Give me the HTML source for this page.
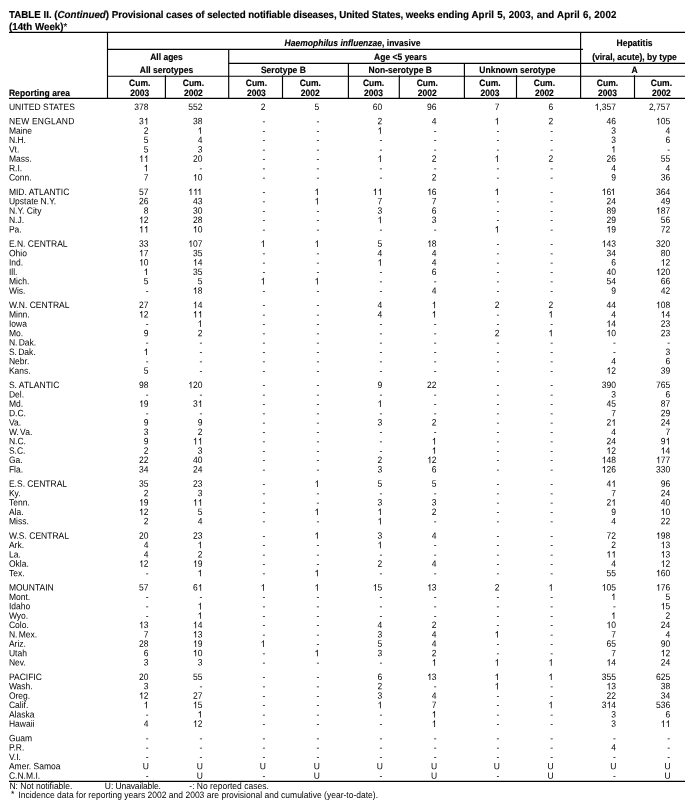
<!DOCTYPE html>
<html><head><meta charset="utf-8"><title>TABLE II</title>
<style>
html,body{margin:0;padding:0;background:#fff;}
body{width:693px;height:809px;position:relative;overflow:hidden;font-family:"Liberation Sans",sans-serif;color:#000;}
#pg{position:absolute;left:0;top:0;width:693px;height:809px;will-change:transform;text-rendering:geometricPrecision;}
.r{position:absolute;left:0;width:693px;height:10px;line-height:10px;font-size:8.52px;white-space:nowrap;}
.r span{position:absolute;top:0;transform:translate(var(--x),var(--f)) matrix(1,0.0005,0,1.08,0,0);transform-origin:0 8px;}
.r .l{left:8px;--x:0.90px;}
.h{position:absolute;-webkit-text-stroke:0.15px #000;font-weight:bold;font-size:8.52px;line-height:10px;height:10px;white-space:nowrap;transform:translateX(-50%) scaleY(1.08);transform-origin:0 8px;}
.hl{position:absolute;background:#000;height:1px;}
.vl{position:absolute;background:#000;width:1px;}
.t{position:absolute;left:9px;-webkit-text-stroke:0.15px #000;font-weight:bold;font-size:9.75px;line-height:11px;white-space:nowrap;transform:scaleY(1.04);transform-origin:0 8px;}
.o{display:inline-block;width:0.5562em;height:0.7227em;vertical-align:baseline;overflow:visible;fill:#000;stroke:#000;stroke-width:12;}
.f{position:absolute;font-size:8.52px;line-height:10px;white-space:nowrap;transform:scaleY(1.08);transform-origin:0 8px;}
</style></head><body>
<div id="pg">
<div class="t" style="top:10.3px">TABLE II. (<i>Continued</i>) <span style="letter-spacing:-0.077px">Provisional cases of selected notifiable diseases, United States, weeks ending </span><span style="letter-spacing:0.1px;word-spacing:0.3px">April 5, 2003, and April 6, 2002</span></div>
<div class="t" style="top:21.9px">(14th Week)<span style="font-weight:normal">*</span></div>
<svg width="693" height="809" viewBox="0 0 693 809" style="position:absolute;left:0;top:0" stroke="#000" stroke-width="1.15" fill="none"><line x1="9.0" y1="32.4" x2="685.0" y2="32.4"/><line x1="107.5" y1="49.4" x2="583" y2="49.4"/><line x1="228.7" y1="63.4" x2="685.0" y2="63.4"/><line x1="107.5" y1="76.2" x2="685.0" y2="76.2"/><line x1="9.0" y1="98.3" x2="685.0" y2="98.3"/><line x1="9.0" y1="781.4" x2="685.0" y2="781.4"/><line x1="107.5" y1="32.4" x2="107.5" y2="98.3"/><line x1="228.7" y1="49.4" x2="228.7" y2="98.3"/><line x1="580.6" y1="32.4" x2="580.6" y2="98.3"/><line x1="348.4" y1="63.4" x2="348.4" y2="98.3"/><line x1="464.4" y1="63.4" x2="464.4" y2="98.3"/><line x1="165.4" y1="75.2" x2="165.4" y2="98.3"/><line x1="282.5" y1="75.2" x2="282.5" y2="98.3"/><line x1="399.3" y1="75.2" x2="399.3" y2="98.3"/><line x1="516.5" y1="75.2" x2="516.5" y2="98.3"/><line x1="634.5" y1="75.2" x2="634.5" y2="98.3"/></svg>
<div class="h" style="left:352.5px;top:37.62px"><i>Haemophilus influenzae</i>, invasive</div>
<div class="h" style="left:166.5px;top:51.72px">All ages</div>
<div class="h" style="left:166.5px;top:65.02px">All serotypes</div>
<div class="h" style="left:400.5px;top:51.62px">Age &lt;5 years</div>
<div class="h" style="left:283.4px;top:65.02px">Serotype B</div>
<div class="h" style="left:400.3px;top:65.02px">Non-serotype B</div>
<div class="h" style="left:517.4px;top:65.02px">Unknown serotype</div>
<div class="h" style="left:634.5px;top:37.82px">Hepatitis</div>
<div class="h" style="left:634.5px;top:51.62px">(viral, acute), by type</div>
<div class="h" style="left:634.5px;top:65.12px">A</div>
<div class="h" style="left:139.7px;top:77.72px">Cum.</div>
<div class="h" style="left:139.7px;top:88.12px">2003</div>
<div class="h" style="left:193.4px;top:77.72px">Cum.</div>
<div class="h" style="left:193.4px;top:88.12px">2002</div>
<div class="h" style="left:256.4px;top:77.72px">Cum.</div>
<div class="h" style="left:256.4px;top:88.12px">2003</div>
<div class="h" style="left:310.3px;top:77.72px">Cum.</div>
<div class="h" style="left:310.3px;top:88.12px">2002</div>
<div class="h" style="left:373.6px;top:77.72px">Cum.</div>
<div class="h" style="left:373.6px;top:88.12px">2003</div>
<div class="h" style="left:427.3px;top:77.72px">Cum.</div>
<div class="h" style="left:427.3px;top:88.12px">2002</div>
<div class="h" style="left:490.0px;top:77.72px">Cum.</div>
<div class="h" style="left:490.0px;top:88.12px">2003</div>
<div class="h" style="left:544.4px;top:77.72px">Cum.</div>
<div class="h" style="left:544.4px;top:88.12px">2002</div>
<div class="h" style="left:607.5px;top:77.72px">Cum.</div>
<div class="h" style="left:607.5px;top:88.12px">2003</div>
<div class="h" style="left:661.4px;top:77.72px">Cum.</div>
<div class="h" style="left:661.4px;top:88.12px">2002</div>
<div class="h" style="left:8.9px;top:88.12px;transform:scaleY(1.08);letter-spacing:0.08px">Reporting area</div>
<div class="r" style="top:101px;--f:0.92px"><span class="l">UNITED STATES</span><span style="left:134px;--x:0.28px">378</span><span style="left:188px;--x:0.18px">552</span><span style="left:260px;--x:0.66px">2</span><span style="left:314px;--x:0.56px">5</span><span style="left:372px;--x:0.82px">60</span><span style="left:427px;--x:0.12px">96</span><span style="left:494px;--x:0.66px">7</span><span style="left:548px;--x:0.46px">6</span><span style="left:594px;--x:0.58px"><svg class="o" viewBox="0 0 1139 1480"><path transform="translate(0,1480) scale(1,-1)" d="M763 0H583V1147Q518 1085 412.5 1023T223 930V1104Q374 1175 487 1276T647 1472H763Z"/></svg>,357</span><span style="left:648px;--x:0.88px">2,757</span></div>
<div class="r" style="top:116px;--f:0.30px"><span class="l" style="letter-spacing:0.2px">NEW ENGLAND</span><span style="left:139px;--x:0.02px">3<svg class="o" viewBox="0 0 1139 1480"><path transform="translate(0,1480) scale(1,-1)" d="M763 0H583V1147Q518 1085 412.5 1023T223 930V1104Q374 1175 487 1276T647 1472H763Z"/></svg></span><span style="left:192px;--x:0.92px">38</span><span style="left:262px;--x:0.56px">-</span><span style="left:316px;--x:0.46px">-</span><span style="left:377px;--x:0.56px">2</span><span style="left:431px;--x:0.86px">4</span><span style="left:494px;--x:0.66px"><svg class="o" viewBox="0 0 1139 1480"><path transform="translate(0,1480) scale(1,-1)" d="M763 0H583V1147Q518 1085 412.5 1023T223 930V1104Q374 1175 487 1276T647 1472H763Z"/></svg></span><span style="left:548px;--x:0.46px">2</span><span style="left:606px;--x:0.42px">46</span><span style="left:655px;--x:0.98px"><svg class="o" viewBox="0 0 1139 1480"><path transform="translate(0,1480) scale(1,-1)" d="M763 0H583V1147Q518 1085 412.5 1023T223 930V1104Q374 1175 487 1276T647 1472H763Z"/></svg>05</span></div>
<div class="r" style="top:125px;--f:0.67px"><span class="l">Maine</span><span style="left:143px;--x:0.76px">2</span><span style="left:197px;--x:0.66px"><svg class="o" viewBox="0 0 1139 1480"><path transform="translate(0,1480) scale(1,-1)" d="M763 0H583V1147Q518 1085 412.5 1023T223 930V1104Q374 1175 487 1276T647 1472H763Z"/></svg></span><span style="left:262px;--x:0.56px">-</span><span style="left:316px;--x:0.46px">-</span><span style="left:377px;--x:0.56px"><svg class="o" viewBox="0 0 1139 1480"><path transform="translate(0,1480) scale(1,-1)" d="M763 0H583V1147Q518 1085 412.5 1023T223 930V1104Q374 1175 487 1276T647 1472H763Z"/></svg></span><span style="left:433px;--x:0.76px">-</span><span style="left:496px;--x:0.56px">-</span><span style="left:550px;--x:0.36px">-</span><span style="left:611px;--x:0.16px">3</span><span style="left:665px;--x:0.46px">4</span></div>
<div class="r" style="top:135px;--f:0.05px"><span class="l">N.H.</span><span style="left:143px;--x:0.76px">5</span><span style="left:197px;--x:0.66px">4</span><span style="left:262px;--x:0.56px">-</span><span style="left:316px;--x:0.46px">-</span><span style="left:379px;--x:0.46px">-</span><span style="left:433px;--x:0.76px">-</span><span style="left:496px;--x:0.56px">-</span><span style="left:550px;--x:0.36px">-</span><span style="left:611px;--x:0.16px">3</span><span style="left:665px;--x:0.46px">6</span></div>
<div class="r" style="top:144px;--f:0.42px"><span class="l">Vt.</span><span style="left:143px;--x:0.76px">5</span><span style="left:197px;--x:0.66px">3</span><span style="left:262px;--x:0.56px">-</span><span style="left:316px;--x:0.46px">-</span><span style="left:379px;--x:0.46px">-</span><span style="left:433px;--x:0.76px">-</span><span style="left:496px;--x:0.56px">-</span><span style="left:550px;--x:0.36px">-</span><span style="left:611px;--x:0.16px"><svg class="o" viewBox="0 0 1139 1480"><path transform="translate(0,1480) scale(1,-1)" d="M763 0H583V1147Q518 1085 412.5 1023T223 930V1104Q374 1175 487 1276T647 1472H763Z"/></svg></span><span style="left:667px;--x:0.36px">-</span></div>
<div class="r" style="top:153px;--f:0.80px"><span class="l">Mass.</span><span style="left:139px;--x:0.02px"><svg class="o" viewBox="0 0 1139 1480"><path transform="translate(0,1480) scale(1,-1)" d="M763 0H583V1147Q518 1085 412.5 1023T223 930V1104Q374 1175 487 1276T647 1472H763Z"/></svg><svg class="o" viewBox="0 0 1139 1480"><path transform="translate(0,1480) scale(1,-1)" d="M763 0H583V1147Q518 1085 412.5 1023T223 930V1104Q374 1175 487 1276T647 1472H763Z"/></svg></span><span style="left:192px;--x:0.92px">20</span><span style="left:262px;--x:0.56px">-</span><span style="left:316px;--x:0.46px">-</span><span style="left:377px;--x:0.56px"><svg class="o" viewBox="0 0 1139 1480"><path transform="translate(0,1480) scale(1,-1)" d="M763 0H583V1147Q518 1085 412.5 1023T223 930V1104Q374 1175 487 1276T647 1472H763Z"/></svg></span><span style="left:431px;--x:0.86px">2</span><span style="left:494px;--x:0.66px"><svg class="o" viewBox="0 0 1139 1480"><path transform="translate(0,1480) scale(1,-1)" d="M763 0H583V1147Q518 1085 412.5 1023T223 930V1104Q374 1175 487 1276T647 1472H763Z"/></svg></span><span style="left:548px;--x:0.46px">2</span><span style="left:606px;--x:0.42px">26</span><span style="left:660px;--x:0.72px">55</span></div>
<div class="r" style="top:163px;--f:0.17px"><span class="l">R.I.</span><span style="left:143px;--x:0.76px"><svg class="o" viewBox="0 0 1139 1480"><path transform="translate(0,1480) scale(1,-1)" d="M763 0H583V1147Q518 1085 412.5 1023T223 930V1104Q374 1175 487 1276T647 1472H763Z"/></svg></span><span style="left:199px;--x:0.56px">-</span><span style="left:262px;--x:0.56px">-</span><span style="left:316px;--x:0.46px">-</span><span style="left:379px;--x:0.46px">-</span><span style="left:433px;--x:0.76px">-</span><span style="left:496px;--x:0.56px">-</span><span style="left:550px;--x:0.36px">-</span><span style="left:611px;--x:0.16px">4</span><span style="left:665px;--x:0.46px">4</span></div>
<div class="r" style="top:172px;--f:0.55px"><span class="l">Conn.</span><span style="left:143px;--x:0.76px">7</span><span style="left:192px;--x:0.92px"><svg class="o" viewBox="0 0 1139 1480"><path transform="translate(0,1480) scale(1,-1)" d="M763 0H583V1147Q518 1085 412.5 1023T223 930V1104Q374 1175 487 1276T647 1472H763Z"/></svg>0</span><span style="left:262px;--x:0.56px">-</span><span style="left:316px;--x:0.46px">-</span><span style="left:379px;--x:0.46px">-</span><span style="left:431px;--x:0.86px">2</span><span style="left:496px;--x:0.56px">-</span><span style="left:550px;--x:0.36px">-</span><span style="left:611px;--x:0.16px">9</span><span style="left:660px;--x:0.72px">36</span></div>
<div class="r" style="top:186px;--f:0.92px"><span class="l">MID. ATLANTIC</span><span style="left:139px;--x:0.02px">57</span><span style="left:188px;--x:0.18px"><svg class="o" viewBox="0 0 1139 1480"><path transform="translate(0,1480) scale(1,-1)" d="M763 0H583V1147Q518 1085 412.5 1023T223 930V1104Q374 1175 487 1276T647 1472H763Z"/></svg><svg class="o" viewBox="0 0 1139 1480"><path transform="translate(0,1480) scale(1,-1)" d="M763 0H583V1147Q518 1085 412.5 1023T223 930V1104Q374 1175 487 1276T647 1472H763Z"/></svg><svg class="o" viewBox="0 0 1139 1480"><path transform="translate(0,1480) scale(1,-1)" d="M763 0H583V1147Q518 1085 412.5 1023T223 930V1104Q374 1175 487 1276T647 1472H763Z"/></svg></span><span style="left:262px;--x:0.56px">-</span><span style="left:314px;--x:0.56px"><svg class="o" viewBox="0 0 1139 1480"><path transform="translate(0,1480) scale(1,-1)" d="M763 0H583V1147Q518 1085 412.5 1023T223 930V1104Q374 1175 487 1276T647 1472H763Z"/></svg></span><span style="left:372px;--x:0.82px"><svg class="o" viewBox="0 0 1139 1480"><path transform="translate(0,1480) scale(1,-1)" d="M763 0H583V1147Q518 1085 412.5 1023T223 930V1104Q374 1175 487 1276T647 1472H763Z"/></svg><svg class="o" viewBox="0 0 1139 1480"><path transform="translate(0,1480) scale(1,-1)" d="M763 0H583V1147Q518 1085 412.5 1023T223 930V1104Q374 1175 487 1276T647 1472H763Z"/></svg></span><span style="left:427px;--x:0.12px"><svg class="o" viewBox="0 0 1139 1480"><path transform="translate(0,1480) scale(1,-1)" d="M763 0H583V1147Q518 1085 412.5 1023T223 930V1104Q374 1175 487 1276T647 1472H763Z"/></svg>6</span><span style="left:494px;--x:0.66px"><svg class="o" viewBox="0 0 1139 1480"><path transform="translate(0,1480) scale(1,-1)" d="M763 0H583V1147Q518 1085 412.5 1023T223 930V1104Q374 1175 487 1276T647 1472H763Z"/></svg></span><span style="left:550px;--x:0.36px">-</span><span style="left:601px;--x:0.68px"><svg class="o" viewBox="0 0 1139 1480"><path transform="translate(0,1480) scale(1,-1)" d="M763 0H583V1147Q518 1085 412.5 1023T223 930V1104Q374 1175 487 1276T647 1472H763Z"/></svg>6<svg class="o" viewBox="0 0 1139 1480"><path transform="translate(0,1480) scale(1,-1)" d="M763 0H583V1147Q518 1085 412.5 1023T223 930V1104Q374 1175 487 1276T647 1472H763Z"/></svg></span><span style="left:655px;--x:0.98px">364</span></div>
<div class="r" style="top:196px;--f:0.30px"><span class="l">Upstate N.Y.</span><span style="left:139px;--x:0.02px">26</span><span style="left:192px;--x:0.92px">43</span><span style="left:262px;--x:0.56px">-</span><span style="left:314px;--x:0.56px"><svg class="o" viewBox="0 0 1139 1480"><path transform="translate(0,1480) scale(1,-1)" d="M763 0H583V1147Q518 1085 412.5 1023T223 930V1104Q374 1175 487 1276T647 1472H763Z"/></svg></span><span style="left:377px;--x:0.56px">7</span><span style="left:431px;--x:0.86px">7</span><span style="left:496px;--x:0.56px">-</span><span style="left:550px;--x:0.36px">-</span><span style="left:606px;--x:0.42px">24</span><span style="left:660px;--x:0.72px">49</span></div>
<div class="r" style="top:205px;--f:0.67px"><span class="l">N.Y. City</span><span style="left:143px;--x:0.76px">8</span><span style="left:192px;--x:0.92px">30</span><span style="left:262px;--x:0.56px">-</span><span style="left:316px;--x:0.46px">-</span><span style="left:377px;--x:0.56px">3</span><span style="left:431px;--x:0.86px">6</span><span style="left:496px;--x:0.56px">-</span><span style="left:550px;--x:0.36px">-</span><span style="left:606px;--x:0.42px">89</span><span style="left:655px;--x:0.98px"><svg class="o" viewBox="0 0 1139 1480"><path transform="translate(0,1480) scale(1,-1)" d="M763 0H583V1147Q518 1085 412.5 1023T223 930V1104Q374 1175 487 1276T647 1472H763Z"/></svg>87</span></div>
<div class="r" style="top:215px;--f:0.05px"><span class="l">N.J.</span><span style="left:139px;--x:0.02px"><svg class="o" viewBox="0 0 1139 1480"><path transform="translate(0,1480) scale(1,-1)" d="M763 0H583V1147Q518 1085 412.5 1023T223 930V1104Q374 1175 487 1276T647 1472H763Z"/></svg>2</span><span style="left:192px;--x:0.92px">28</span><span style="left:262px;--x:0.56px">-</span><span style="left:316px;--x:0.46px">-</span><span style="left:377px;--x:0.56px"><svg class="o" viewBox="0 0 1139 1480"><path transform="translate(0,1480) scale(1,-1)" d="M763 0H583V1147Q518 1085 412.5 1023T223 930V1104Q374 1175 487 1276T647 1472H763Z"/></svg></span><span style="left:431px;--x:0.86px">3</span><span style="left:496px;--x:0.56px">-</span><span style="left:550px;--x:0.36px">-</span><span style="left:606px;--x:0.42px">29</span><span style="left:660px;--x:0.72px">56</span></div>
<div class="r" style="top:224px;--f:0.42px"><span class="l">Pa.</span><span style="left:139px;--x:0.02px"><svg class="o" viewBox="0 0 1139 1480"><path transform="translate(0,1480) scale(1,-1)" d="M763 0H583V1147Q518 1085 412.5 1023T223 930V1104Q374 1175 487 1276T647 1472H763Z"/></svg><svg class="o" viewBox="0 0 1139 1480"><path transform="translate(0,1480) scale(1,-1)" d="M763 0H583V1147Q518 1085 412.5 1023T223 930V1104Q374 1175 487 1276T647 1472H763Z"/></svg></span><span style="left:192px;--x:0.92px"><svg class="o" viewBox="0 0 1139 1480"><path transform="translate(0,1480) scale(1,-1)" d="M763 0H583V1147Q518 1085 412.5 1023T223 930V1104Q374 1175 487 1276T647 1472H763Z"/></svg>0</span><span style="left:262px;--x:0.56px">-</span><span style="left:316px;--x:0.46px">-</span><span style="left:379px;--x:0.46px">-</span><span style="left:433px;--x:0.76px">-</span><span style="left:494px;--x:0.66px"><svg class="o" viewBox="0 0 1139 1480"><path transform="translate(0,1480) scale(1,-1)" d="M763 0H583V1147Q518 1085 412.5 1023T223 930V1104Q374 1175 487 1276T647 1472H763Z"/></svg></span><span style="left:550px;--x:0.36px">-</span><span style="left:606px;--x:0.42px"><svg class="o" viewBox="0 0 1139 1480"><path transform="translate(0,1480) scale(1,-1)" d="M763 0H583V1147Q518 1085 412.5 1023T223 930V1104Q374 1175 487 1276T647 1472H763Z"/></svg>9</span><span style="left:660px;--x:0.72px">72</span></div>
<div class="r" style="top:238px;--f:0.80px"><span class="l">E.N. CENTRAL</span><span style="left:139px;--x:0.02px">33</span><span style="left:188px;--x:0.18px"><svg class="o" viewBox="0 0 1139 1480"><path transform="translate(0,1480) scale(1,-1)" d="M763 0H583V1147Q518 1085 412.5 1023T223 930V1104Q374 1175 487 1276T647 1472H763Z"/></svg>07</span><span style="left:260px;--x:0.66px"><svg class="o" viewBox="0 0 1139 1480"><path transform="translate(0,1480) scale(1,-1)" d="M763 0H583V1147Q518 1085 412.5 1023T223 930V1104Q374 1175 487 1276T647 1472H763Z"/></svg></span><span style="left:314px;--x:0.56px"><svg class="o" viewBox="0 0 1139 1480"><path transform="translate(0,1480) scale(1,-1)" d="M763 0H583V1147Q518 1085 412.5 1023T223 930V1104Q374 1175 487 1276T647 1472H763Z"/></svg></span><span style="left:377px;--x:0.56px">5</span><span style="left:427px;--x:0.12px"><svg class="o" viewBox="0 0 1139 1480"><path transform="translate(0,1480) scale(1,-1)" d="M763 0H583V1147Q518 1085 412.5 1023T223 930V1104Q374 1175 487 1276T647 1472H763Z"/></svg>8</span><span style="left:496px;--x:0.56px">-</span><span style="left:550px;--x:0.36px">-</span><span style="left:601px;--x:0.68px"><svg class="o" viewBox="0 0 1139 1480"><path transform="translate(0,1480) scale(1,-1)" d="M763 0H583V1147Q518 1085 412.5 1023T223 930V1104Q374 1175 487 1276T647 1472H763Z"/></svg>43</span><span style="left:655px;--x:0.98px">320</span></div>
<div class="r" style="top:248px;--f:0.17px"><span class="l">Ohio</span><span style="left:139px;--x:0.02px"><svg class="o" viewBox="0 0 1139 1480"><path transform="translate(0,1480) scale(1,-1)" d="M763 0H583V1147Q518 1085 412.5 1023T223 930V1104Q374 1175 487 1276T647 1472H763Z"/></svg>7</span><span style="left:192px;--x:0.92px">35</span><span style="left:262px;--x:0.56px">-</span><span style="left:316px;--x:0.46px">-</span><span style="left:377px;--x:0.56px">4</span><span style="left:431px;--x:0.86px">4</span><span style="left:496px;--x:0.56px">-</span><span style="left:550px;--x:0.36px">-</span><span style="left:606px;--x:0.42px">34</span><span style="left:660px;--x:0.72px">80</span></div>
<div class="r" style="top:257px;--f:0.55px"><span class="l">Ind.</span><span style="left:139px;--x:0.02px"><svg class="o" viewBox="0 0 1139 1480"><path transform="translate(0,1480) scale(1,-1)" d="M763 0H583V1147Q518 1085 412.5 1023T223 930V1104Q374 1175 487 1276T647 1472H763Z"/></svg>0</span><span style="left:192px;--x:0.92px"><svg class="o" viewBox="0 0 1139 1480"><path transform="translate(0,1480) scale(1,-1)" d="M763 0H583V1147Q518 1085 412.5 1023T223 930V1104Q374 1175 487 1276T647 1472H763Z"/></svg>4</span><span style="left:262px;--x:0.56px">-</span><span style="left:316px;--x:0.46px">-</span><span style="left:377px;--x:0.56px"><svg class="o" viewBox="0 0 1139 1480"><path transform="translate(0,1480) scale(1,-1)" d="M763 0H583V1147Q518 1085 412.5 1023T223 930V1104Q374 1175 487 1276T647 1472H763Z"/></svg></span><span style="left:431px;--x:0.86px">4</span><span style="left:496px;--x:0.56px">-</span><span style="left:550px;--x:0.36px">-</span><span style="left:611px;--x:0.16px">6</span><span style="left:660px;--x:0.72px"><svg class="o" viewBox="0 0 1139 1480"><path transform="translate(0,1480) scale(1,-1)" d="M763 0H583V1147Q518 1085 412.5 1023T223 930V1104Q374 1175 487 1276T647 1472H763Z"/></svg>2</span></div>
<div class="r" style="top:266px;--f:0.92px"><span class="l">Ill.</span><span style="left:143px;--x:0.76px"><svg class="o" viewBox="0 0 1139 1480"><path transform="translate(0,1480) scale(1,-1)" d="M763 0H583V1147Q518 1085 412.5 1023T223 930V1104Q374 1175 487 1276T647 1472H763Z"/></svg></span><span style="left:192px;--x:0.92px">35</span><span style="left:262px;--x:0.56px">-</span><span style="left:316px;--x:0.46px">-</span><span style="left:379px;--x:0.46px">-</span><span style="left:431px;--x:0.86px">6</span><span style="left:496px;--x:0.56px">-</span><span style="left:550px;--x:0.36px">-</span><span style="left:606px;--x:0.42px">40</span><span style="left:655px;--x:0.98px"><svg class="o" viewBox="0 0 1139 1480"><path transform="translate(0,1480) scale(1,-1)" d="M763 0H583V1147Q518 1085 412.5 1023T223 930V1104Q374 1175 487 1276T647 1472H763Z"/></svg>20</span></div>
<div class="r" style="top:276px;--f:0.30px"><span class="l">Mich.</span><span style="left:143px;--x:0.76px">5</span><span style="left:197px;--x:0.66px">5</span><span style="left:260px;--x:0.66px"><svg class="o" viewBox="0 0 1139 1480"><path transform="translate(0,1480) scale(1,-1)" d="M763 0H583V1147Q518 1085 412.5 1023T223 930V1104Q374 1175 487 1276T647 1472H763Z"/></svg></span><span style="left:314px;--x:0.56px"><svg class="o" viewBox="0 0 1139 1480"><path transform="translate(0,1480) scale(1,-1)" d="M763 0H583V1147Q518 1085 412.5 1023T223 930V1104Q374 1175 487 1276T647 1472H763Z"/></svg></span><span style="left:379px;--x:0.46px">-</span><span style="left:433px;--x:0.76px">-</span><span style="left:496px;--x:0.56px">-</span><span style="left:550px;--x:0.36px">-</span><span style="left:606px;--x:0.42px">54</span><span style="left:660px;--x:0.72px">66</span></div>
<div class="r" style="top:285px;--f:0.67px"><span class="l">Wis.</span><span style="left:145px;--x:0.66px">-</span><span style="left:192px;--x:0.92px"><svg class="o" viewBox="0 0 1139 1480"><path transform="translate(0,1480) scale(1,-1)" d="M763 0H583V1147Q518 1085 412.5 1023T223 930V1104Q374 1175 487 1276T647 1472H763Z"/></svg>8</span><span style="left:262px;--x:0.56px">-</span><span style="left:316px;--x:0.46px">-</span><span style="left:379px;--x:0.46px">-</span><span style="left:431px;--x:0.86px">4</span><span style="left:496px;--x:0.56px">-</span><span style="left:550px;--x:0.36px">-</span><span style="left:611px;--x:0.16px">9</span><span style="left:660px;--x:0.72px">42</span></div>
<div class="r" style="top:300px;--f:0.05px"><span class="l">W.N. CENTRAL</span><span style="left:139px;--x:0.02px">27</span><span style="left:192px;--x:0.92px"><svg class="o" viewBox="0 0 1139 1480"><path transform="translate(0,1480) scale(1,-1)" d="M763 0H583V1147Q518 1085 412.5 1023T223 930V1104Q374 1175 487 1276T647 1472H763Z"/></svg>4</span><span style="left:262px;--x:0.56px">-</span><span style="left:316px;--x:0.46px">-</span><span style="left:377px;--x:0.56px">4</span><span style="left:431px;--x:0.86px"><svg class="o" viewBox="0 0 1139 1480"><path transform="translate(0,1480) scale(1,-1)" d="M763 0H583V1147Q518 1085 412.5 1023T223 930V1104Q374 1175 487 1276T647 1472H763Z"/></svg></span><span style="left:494px;--x:0.66px">2</span><span style="left:548px;--x:0.46px">2</span><span style="left:606px;--x:0.42px">44</span><span style="left:655px;--x:0.98px"><svg class="o" viewBox="0 0 1139 1480"><path transform="translate(0,1480) scale(1,-1)" d="M763 0H583V1147Q518 1085 412.5 1023T223 930V1104Q374 1175 487 1276T647 1472H763Z"/></svg>08</span></div>
<div class="r" style="top:309px;--f:0.42px"><span class="l">Minn.</span><span style="left:139px;--x:0.02px"><svg class="o" viewBox="0 0 1139 1480"><path transform="translate(0,1480) scale(1,-1)" d="M763 0H583V1147Q518 1085 412.5 1023T223 930V1104Q374 1175 487 1276T647 1472H763Z"/></svg>2</span><span style="left:192px;--x:0.92px"><svg class="o" viewBox="0 0 1139 1480"><path transform="translate(0,1480) scale(1,-1)" d="M763 0H583V1147Q518 1085 412.5 1023T223 930V1104Q374 1175 487 1276T647 1472H763Z"/></svg><svg class="o" viewBox="0 0 1139 1480"><path transform="translate(0,1480) scale(1,-1)" d="M763 0H583V1147Q518 1085 412.5 1023T223 930V1104Q374 1175 487 1276T647 1472H763Z"/></svg></span><span style="left:262px;--x:0.56px">-</span><span style="left:316px;--x:0.46px">-</span><span style="left:377px;--x:0.56px">4</span><span style="left:431px;--x:0.86px"><svg class="o" viewBox="0 0 1139 1480"><path transform="translate(0,1480) scale(1,-1)" d="M763 0H583V1147Q518 1085 412.5 1023T223 930V1104Q374 1175 487 1276T647 1472H763Z"/></svg></span><span style="left:496px;--x:0.56px">-</span><span style="left:548px;--x:0.46px"><svg class="o" viewBox="0 0 1139 1480"><path transform="translate(0,1480) scale(1,-1)" d="M763 0H583V1147Q518 1085 412.5 1023T223 930V1104Q374 1175 487 1276T647 1472H763Z"/></svg></span><span style="left:611px;--x:0.16px">4</span><span style="left:660px;--x:0.72px"><svg class="o" viewBox="0 0 1139 1480"><path transform="translate(0,1480) scale(1,-1)" d="M763 0H583V1147Q518 1085 412.5 1023T223 930V1104Q374 1175 487 1276T647 1472H763Z"/></svg>4</span></div>
<div class="r" style="top:318px;--f:0.80px"><span class="l">Iowa</span><span style="left:145px;--x:0.66px">-</span><span style="left:197px;--x:0.66px"><svg class="o" viewBox="0 0 1139 1480"><path transform="translate(0,1480) scale(1,-1)" d="M763 0H583V1147Q518 1085 412.5 1023T223 930V1104Q374 1175 487 1276T647 1472H763Z"/></svg></span><span style="left:262px;--x:0.56px">-</span><span style="left:316px;--x:0.46px">-</span><span style="left:379px;--x:0.46px">-</span><span style="left:433px;--x:0.76px">-</span><span style="left:496px;--x:0.56px">-</span><span style="left:550px;--x:0.36px">-</span><span style="left:606px;--x:0.42px"><svg class="o" viewBox="0 0 1139 1480"><path transform="translate(0,1480) scale(1,-1)" d="M763 0H583V1147Q518 1085 412.5 1023T223 930V1104Q374 1175 487 1276T647 1472H763Z"/></svg>4</span><span style="left:660px;--x:0.72px">23</span></div>
<div class="r" style="top:328px;--f:0.17px"><span class="l">Mo.</span><span style="left:143px;--x:0.76px">9</span><span style="left:197px;--x:0.66px">2</span><span style="left:262px;--x:0.56px">-</span><span style="left:316px;--x:0.46px">-</span><span style="left:379px;--x:0.46px">-</span><span style="left:433px;--x:0.76px">-</span><span style="left:494px;--x:0.66px">2</span><span style="left:548px;--x:0.46px"><svg class="o" viewBox="0 0 1139 1480"><path transform="translate(0,1480) scale(1,-1)" d="M763 0H583V1147Q518 1085 412.5 1023T223 930V1104Q374 1175 487 1276T647 1472H763Z"/></svg></span><span style="left:606px;--x:0.42px"><svg class="o" viewBox="0 0 1139 1480"><path transform="translate(0,1480) scale(1,-1)" d="M763 0H583V1147Q518 1085 412.5 1023T223 930V1104Q374 1175 487 1276T647 1472H763Z"/></svg>0</span><span style="left:660px;--x:0.72px">23</span></div>
<div class="r" style="top:337px;--f:0.55px"><span class="l" style="word-spacing:-1.1px">N. Dak.</span><span style="left:145px;--x:0.66px">-</span><span style="left:199px;--x:0.56px">-</span><span style="left:262px;--x:0.56px">-</span><span style="left:316px;--x:0.46px">-</span><span style="left:379px;--x:0.46px">-</span><span style="left:433px;--x:0.76px">-</span><span style="left:496px;--x:0.56px">-</span><span style="left:550px;--x:0.36px">-</span><span style="left:613px;--x:0.06px">-</span><span style="left:667px;--x:0.36px">-</span></div>
<div class="r" style="top:346px;--f:0.92px"><span class="l" style="word-spacing:-1.1px">S. Dak.</span><span style="left:143px;--x:0.76px"><svg class="o" viewBox="0 0 1139 1480"><path transform="translate(0,1480) scale(1,-1)" d="M763 0H583V1147Q518 1085 412.5 1023T223 930V1104Q374 1175 487 1276T647 1472H763Z"/></svg></span><span style="left:199px;--x:0.56px">-</span><span style="left:262px;--x:0.56px">-</span><span style="left:316px;--x:0.46px">-</span><span style="left:379px;--x:0.46px">-</span><span style="left:433px;--x:0.76px">-</span><span style="left:496px;--x:0.56px">-</span><span style="left:550px;--x:0.36px">-</span><span style="left:613px;--x:0.06px">-</span><span style="left:665px;--x:0.46px">3</span></div>
<div class="r" style="top:356px;--f:0.30px"><span class="l">Nebr.</span><span style="left:145px;--x:0.66px">-</span><span style="left:199px;--x:0.56px">-</span><span style="left:262px;--x:0.56px">-</span><span style="left:316px;--x:0.46px">-</span><span style="left:379px;--x:0.46px">-</span><span style="left:433px;--x:0.76px">-</span><span style="left:496px;--x:0.56px">-</span><span style="left:550px;--x:0.36px">-</span><span style="left:611px;--x:0.16px">4</span><span style="left:665px;--x:0.46px">6</span></div>
<div class="r" style="top:365px;--f:0.67px"><span class="l">Kans.</span><span style="left:143px;--x:0.76px">5</span><span style="left:199px;--x:0.56px">-</span><span style="left:262px;--x:0.56px">-</span><span style="left:316px;--x:0.46px">-</span><span style="left:379px;--x:0.46px">-</span><span style="left:433px;--x:0.76px">-</span><span style="left:496px;--x:0.56px">-</span><span style="left:550px;--x:0.36px">-</span><span style="left:606px;--x:0.42px"><svg class="o" viewBox="0 0 1139 1480"><path transform="translate(0,1480) scale(1,-1)" d="M763 0H583V1147Q518 1085 412.5 1023T223 930V1104Q374 1175 487 1276T647 1472H763Z"/></svg>2</span><span style="left:660px;--x:0.72px">39</span></div>
<div class="r" style="top:380px;--f:0.05px"><span class="l">S. ATLANTIC</span><span style="left:139px;--x:0.02px">98</span><span style="left:188px;--x:0.18px"><svg class="o" viewBox="0 0 1139 1480"><path transform="translate(0,1480) scale(1,-1)" d="M763 0H583V1147Q518 1085 412.5 1023T223 930V1104Q374 1175 487 1276T647 1472H763Z"/></svg>20</span><span style="left:262px;--x:0.56px">-</span><span style="left:316px;--x:0.46px">-</span><span style="left:377px;--x:0.56px">9</span><span style="left:427px;--x:0.12px">22</span><span style="left:496px;--x:0.56px">-</span><span style="left:550px;--x:0.36px">-</span><span style="left:601px;--x:0.68px">390</span><span style="left:655px;--x:0.98px">765</span></div>
<div class="r" style="top:389px;--f:0.42px"><span class="l">Del.</span><span style="left:145px;--x:0.66px">-</span><span style="left:199px;--x:0.56px">-</span><span style="left:262px;--x:0.56px">-</span><span style="left:316px;--x:0.46px">-</span><span style="left:379px;--x:0.46px">-</span><span style="left:433px;--x:0.76px">-</span><span style="left:496px;--x:0.56px">-</span><span style="left:550px;--x:0.36px">-</span><span style="left:611px;--x:0.16px">3</span><span style="left:665px;--x:0.46px">6</span></div>
<div class="r" style="top:398px;--f:0.80px"><span class="l">Md.</span><span style="left:139px;--x:0.02px"><svg class="o" viewBox="0 0 1139 1480"><path transform="translate(0,1480) scale(1,-1)" d="M763 0H583V1147Q518 1085 412.5 1023T223 930V1104Q374 1175 487 1276T647 1472H763Z"/></svg>9</span><span style="left:192px;--x:0.92px">3<svg class="o" viewBox="0 0 1139 1480"><path transform="translate(0,1480) scale(1,-1)" d="M763 0H583V1147Q518 1085 412.5 1023T223 930V1104Q374 1175 487 1276T647 1472H763Z"/></svg></span><span style="left:262px;--x:0.56px">-</span><span style="left:316px;--x:0.46px">-</span><span style="left:377px;--x:0.56px"><svg class="o" viewBox="0 0 1139 1480"><path transform="translate(0,1480) scale(1,-1)" d="M763 0H583V1147Q518 1085 412.5 1023T223 930V1104Q374 1175 487 1276T647 1472H763Z"/></svg></span><span style="left:433px;--x:0.76px">-</span><span style="left:496px;--x:0.56px">-</span><span style="left:550px;--x:0.36px">-</span><span style="left:606px;--x:0.42px">45</span><span style="left:660px;--x:0.72px">87</span></div>
<div class="r" style="top:408px;--f:0.17px"><span class="l">D.C.</span><span style="left:145px;--x:0.66px">-</span><span style="left:199px;--x:0.56px">-</span><span style="left:262px;--x:0.56px">-</span><span style="left:316px;--x:0.46px">-</span><span style="left:379px;--x:0.46px">-</span><span style="left:433px;--x:0.76px">-</span><span style="left:496px;--x:0.56px">-</span><span style="left:550px;--x:0.36px">-</span><span style="left:611px;--x:0.16px">7</span><span style="left:660px;--x:0.72px">29</span></div>
<div class="r" style="top:417px;--f:0.55px"><span class="l">Va.</span><span style="left:143px;--x:0.76px">9</span><span style="left:197px;--x:0.66px">9</span><span style="left:262px;--x:0.56px">-</span><span style="left:316px;--x:0.46px">-</span><span style="left:377px;--x:0.56px">3</span><span style="left:431px;--x:0.86px">2</span><span style="left:496px;--x:0.56px">-</span><span style="left:550px;--x:0.36px">-</span><span style="left:606px;--x:0.42px">2<svg class="o" viewBox="0 0 1139 1480"><path transform="translate(0,1480) scale(1,-1)" d="M763 0H583V1147Q518 1085 412.5 1023T223 930V1104Q374 1175 487 1276T647 1472H763Z"/></svg></span><span style="left:660px;--x:0.72px">24</span></div>
<div class="r" style="top:426px;--f:0.92px"><span class="l" style="word-spacing:-1.1px">W. Va.</span><span style="left:143px;--x:0.76px">3</span><span style="left:197px;--x:0.66px">2</span><span style="left:262px;--x:0.56px">-</span><span style="left:316px;--x:0.46px">-</span><span style="left:379px;--x:0.46px">-</span><span style="left:433px;--x:0.76px">-</span><span style="left:496px;--x:0.56px">-</span><span style="left:550px;--x:0.36px">-</span><span style="left:611px;--x:0.16px">4</span><span style="left:665px;--x:0.46px">7</span></div>
<div class="r" style="top:436px;--f:0.30px"><span class="l">N.C.</span><span style="left:143px;--x:0.76px">9</span><span style="left:192px;--x:0.92px"><svg class="o" viewBox="0 0 1139 1480"><path transform="translate(0,1480) scale(1,-1)" d="M763 0H583V1147Q518 1085 412.5 1023T223 930V1104Q374 1175 487 1276T647 1472H763Z"/></svg><svg class="o" viewBox="0 0 1139 1480"><path transform="translate(0,1480) scale(1,-1)" d="M763 0H583V1147Q518 1085 412.5 1023T223 930V1104Q374 1175 487 1276T647 1472H763Z"/></svg></span><span style="left:262px;--x:0.56px">-</span><span style="left:316px;--x:0.46px">-</span><span style="left:379px;--x:0.46px">-</span><span style="left:431px;--x:0.86px"><svg class="o" viewBox="0 0 1139 1480"><path transform="translate(0,1480) scale(1,-1)" d="M763 0H583V1147Q518 1085 412.5 1023T223 930V1104Q374 1175 487 1276T647 1472H763Z"/></svg></span><span style="left:496px;--x:0.56px">-</span><span style="left:550px;--x:0.36px">-</span><span style="left:606px;--x:0.42px">24</span><span style="left:660px;--x:0.72px">9<svg class="o" viewBox="0 0 1139 1480"><path transform="translate(0,1480) scale(1,-1)" d="M763 0H583V1147Q518 1085 412.5 1023T223 930V1104Q374 1175 487 1276T647 1472H763Z"/></svg></span></div>
<div class="r" style="top:445px;--f:0.67px"><span class="l">S.C.</span><span style="left:143px;--x:0.76px">2</span><span style="left:197px;--x:0.66px">3</span><span style="left:262px;--x:0.56px">-</span><span style="left:316px;--x:0.46px">-</span><span style="left:379px;--x:0.46px">-</span><span style="left:431px;--x:0.86px"><svg class="o" viewBox="0 0 1139 1480"><path transform="translate(0,1480) scale(1,-1)" d="M763 0H583V1147Q518 1085 412.5 1023T223 930V1104Q374 1175 487 1276T647 1472H763Z"/></svg></span><span style="left:496px;--x:0.56px">-</span><span style="left:550px;--x:0.36px">-</span><span style="left:606px;--x:0.42px"><svg class="o" viewBox="0 0 1139 1480"><path transform="translate(0,1480) scale(1,-1)" d="M763 0H583V1147Q518 1085 412.5 1023T223 930V1104Q374 1175 487 1276T647 1472H763Z"/></svg>2</span><span style="left:660px;--x:0.72px"><svg class="o" viewBox="0 0 1139 1480"><path transform="translate(0,1480) scale(1,-1)" d="M763 0H583V1147Q518 1085 412.5 1023T223 930V1104Q374 1175 487 1276T647 1472H763Z"/></svg>4</span></div>
<div class="r" style="top:455px;--f:0.05px"><span class="l">Ga.</span><span style="left:139px;--x:0.02px">22</span><span style="left:192px;--x:0.92px">40</span><span style="left:262px;--x:0.56px">-</span><span style="left:316px;--x:0.46px">-</span><span style="left:377px;--x:0.56px">2</span><span style="left:427px;--x:0.12px"><svg class="o" viewBox="0 0 1139 1480"><path transform="translate(0,1480) scale(1,-1)" d="M763 0H583V1147Q518 1085 412.5 1023T223 930V1104Q374 1175 487 1276T647 1472H763Z"/></svg>2</span><span style="left:496px;--x:0.56px">-</span><span style="left:550px;--x:0.36px">-</span><span style="left:601px;--x:0.68px"><svg class="o" viewBox="0 0 1139 1480"><path transform="translate(0,1480) scale(1,-1)" d="M763 0H583V1147Q518 1085 412.5 1023T223 930V1104Q374 1175 487 1276T647 1472H763Z"/></svg>48</span><span style="left:655px;--x:0.98px"><svg class="o" viewBox="0 0 1139 1480"><path transform="translate(0,1480) scale(1,-1)" d="M763 0H583V1147Q518 1085 412.5 1023T223 930V1104Q374 1175 487 1276T647 1472H763Z"/></svg>77</span></div>
<div class="r" style="top:464px;--f:0.42px"><span class="l">Fla.</span><span style="left:139px;--x:0.02px">34</span><span style="left:192px;--x:0.92px">24</span><span style="left:262px;--x:0.56px">-</span><span style="left:316px;--x:0.46px">-</span><span style="left:377px;--x:0.56px">3</span><span style="left:431px;--x:0.86px">6</span><span style="left:496px;--x:0.56px">-</span><span style="left:550px;--x:0.36px">-</span><span style="left:601px;--x:0.68px"><svg class="o" viewBox="0 0 1139 1480"><path transform="translate(0,1480) scale(1,-1)" d="M763 0H583V1147Q518 1085 412.5 1023T223 930V1104Q374 1175 487 1276T647 1472H763Z"/></svg>26</span><span style="left:655px;--x:0.98px">330</span></div>
<div class="r" style="top:478px;--f:0.80px"><span class="l">E.S. CENTRAL</span><span style="left:139px;--x:0.02px">35</span><span style="left:192px;--x:0.92px">23</span><span style="left:262px;--x:0.56px">-</span><span style="left:314px;--x:0.56px"><svg class="o" viewBox="0 0 1139 1480"><path transform="translate(0,1480) scale(1,-1)" d="M763 0H583V1147Q518 1085 412.5 1023T223 930V1104Q374 1175 487 1276T647 1472H763Z"/></svg></span><span style="left:377px;--x:0.56px">5</span><span style="left:431px;--x:0.86px">5</span><span style="left:496px;--x:0.56px">-</span><span style="left:550px;--x:0.36px">-</span><span style="left:606px;--x:0.42px">4<svg class="o" viewBox="0 0 1139 1480"><path transform="translate(0,1480) scale(1,-1)" d="M763 0H583V1147Q518 1085 412.5 1023T223 930V1104Q374 1175 487 1276T647 1472H763Z"/></svg></span><span style="left:660px;--x:0.72px">96</span></div>
<div class="r" style="top:488px;--f:0.17px"><span class="l">Ky.</span><span style="left:143px;--x:0.76px">2</span><span style="left:197px;--x:0.66px">3</span><span style="left:262px;--x:0.56px">-</span><span style="left:316px;--x:0.46px">-</span><span style="left:379px;--x:0.46px">-</span><span style="left:433px;--x:0.76px">-</span><span style="left:496px;--x:0.56px">-</span><span style="left:550px;--x:0.36px">-</span><span style="left:611px;--x:0.16px">7</span><span style="left:660px;--x:0.72px">24</span></div>
<div class="r" style="top:497px;--f:0.55px"><span class="l">Tenn.</span><span style="left:139px;--x:0.02px"><svg class="o" viewBox="0 0 1139 1480"><path transform="translate(0,1480) scale(1,-1)" d="M763 0H583V1147Q518 1085 412.5 1023T223 930V1104Q374 1175 487 1276T647 1472H763Z"/></svg>9</span><span style="left:192px;--x:0.92px"><svg class="o" viewBox="0 0 1139 1480"><path transform="translate(0,1480) scale(1,-1)" d="M763 0H583V1147Q518 1085 412.5 1023T223 930V1104Q374 1175 487 1276T647 1472H763Z"/></svg><svg class="o" viewBox="0 0 1139 1480"><path transform="translate(0,1480) scale(1,-1)" d="M763 0H583V1147Q518 1085 412.5 1023T223 930V1104Q374 1175 487 1276T647 1472H763Z"/></svg></span><span style="left:262px;--x:0.56px">-</span><span style="left:316px;--x:0.46px">-</span><span style="left:377px;--x:0.56px">3</span><span style="left:431px;--x:0.86px">3</span><span style="left:496px;--x:0.56px">-</span><span style="left:550px;--x:0.36px">-</span><span style="left:606px;--x:0.42px">2<svg class="o" viewBox="0 0 1139 1480"><path transform="translate(0,1480) scale(1,-1)" d="M763 0H583V1147Q518 1085 412.5 1023T223 930V1104Q374 1175 487 1276T647 1472H763Z"/></svg></span><span style="left:660px;--x:0.72px">40</span></div>
<div class="r" style="top:506px;--f:0.92px"><span class="l">Ala.</span><span style="left:139px;--x:0.02px"><svg class="o" viewBox="0 0 1139 1480"><path transform="translate(0,1480) scale(1,-1)" d="M763 0H583V1147Q518 1085 412.5 1023T223 930V1104Q374 1175 487 1276T647 1472H763Z"/></svg>2</span><span style="left:197px;--x:0.66px">5</span><span style="left:262px;--x:0.56px">-</span><span style="left:314px;--x:0.56px"><svg class="o" viewBox="0 0 1139 1480"><path transform="translate(0,1480) scale(1,-1)" d="M763 0H583V1147Q518 1085 412.5 1023T223 930V1104Q374 1175 487 1276T647 1472H763Z"/></svg></span><span style="left:377px;--x:0.56px"><svg class="o" viewBox="0 0 1139 1480"><path transform="translate(0,1480) scale(1,-1)" d="M763 0H583V1147Q518 1085 412.5 1023T223 930V1104Q374 1175 487 1276T647 1472H763Z"/></svg></span><span style="left:431px;--x:0.86px">2</span><span style="left:496px;--x:0.56px">-</span><span style="left:550px;--x:0.36px">-</span><span style="left:611px;--x:0.16px">9</span><span style="left:660px;--x:0.72px"><svg class="o" viewBox="0 0 1139 1480"><path transform="translate(0,1480) scale(1,-1)" d="M763 0H583V1147Q518 1085 412.5 1023T223 930V1104Q374 1175 487 1276T647 1472H763Z"/></svg>0</span></div>
<div class="r" style="top:516px;--f:0.30px"><span class="l">Miss.</span><span style="left:143px;--x:0.76px">2</span><span style="left:197px;--x:0.66px">4</span><span style="left:262px;--x:0.56px">-</span><span style="left:316px;--x:0.46px">-</span><span style="left:377px;--x:0.56px"><svg class="o" viewBox="0 0 1139 1480"><path transform="translate(0,1480) scale(1,-1)" d="M763 0H583V1147Q518 1085 412.5 1023T223 930V1104Q374 1175 487 1276T647 1472H763Z"/></svg></span><span style="left:433px;--x:0.76px">-</span><span style="left:496px;--x:0.56px">-</span><span style="left:550px;--x:0.36px">-</span><span style="left:611px;--x:0.16px">4</span><span style="left:660px;--x:0.72px">22</span></div>
<div class="r" style="top:530px;--f:0.67px"><span class="l">W.S. CENTRAL</span><span style="left:139px;--x:0.02px">20</span><span style="left:192px;--x:0.92px">23</span><span style="left:262px;--x:0.56px">-</span><span style="left:314px;--x:0.56px"><svg class="o" viewBox="0 0 1139 1480"><path transform="translate(0,1480) scale(1,-1)" d="M763 0H583V1147Q518 1085 412.5 1023T223 930V1104Q374 1175 487 1276T647 1472H763Z"/></svg></span><span style="left:377px;--x:0.56px">3</span><span style="left:431px;--x:0.86px">4</span><span style="left:496px;--x:0.56px">-</span><span style="left:550px;--x:0.36px">-</span><span style="left:606px;--x:0.42px">72</span><span style="left:655px;--x:0.98px"><svg class="o" viewBox="0 0 1139 1480"><path transform="translate(0,1480) scale(1,-1)" d="M763 0H583V1147Q518 1085 412.5 1023T223 930V1104Q374 1175 487 1276T647 1472H763Z"/></svg>98</span></div>
<div class="r" style="top:540px;--f:0.05px"><span class="l">Ark.</span><span style="left:143px;--x:0.76px">4</span><span style="left:197px;--x:0.66px"><svg class="o" viewBox="0 0 1139 1480"><path transform="translate(0,1480) scale(1,-1)" d="M763 0H583V1147Q518 1085 412.5 1023T223 930V1104Q374 1175 487 1276T647 1472H763Z"/></svg></span><span style="left:262px;--x:0.56px">-</span><span style="left:316px;--x:0.46px">-</span><span style="left:377px;--x:0.56px"><svg class="o" viewBox="0 0 1139 1480"><path transform="translate(0,1480) scale(1,-1)" d="M763 0H583V1147Q518 1085 412.5 1023T223 930V1104Q374 1175 487 1276T647 1472H763Z"/></svg></span><span style="left:433px;--x:0.76px">-</span><span style="left:496px;--x:0.56px">-</span><span style="left:550px;--x:0.36px">-</span><span style="left:611px;--x:0.16px">2</span><span style="left:660px;--x:0.72px"><svg class="o" viewBox="0 0 1139 1480"><path transform="translate(0,1480) scale(1,-1)" d="M763 0H583V1147Q518 1085 412.5 1023T223 930V1104Q374 1175 487 1276T647 1472H763Z"/></svg>3</span></div>
<div class="r" style="top:549px;--f:0.42px"><span class="l">La.</span><span style="left:143px;--x:0.76px">4</span><span style="left:197px;--x:0.66px">2</span><span style="left:262px;--x:0.56px">-</span><span style="left:316px;--x:0.46px">-</span><span style="left:379px;--x:0.46px">-</span><span style="left:433px;--x:0.76px">-</span><span style="left:496px;--x:0.56px">-</span><span style="left:550px;--x:0.36px">-</span><span style="left:606px;--x:0.42px"><svg class="o" viewBox="0 0 1139 1480"><path transform="translate(0,1480) scale(1,-1)" d="M763 0H583V1147Q518 1085 412.5 1023T223 930V1104Q374 1175 487 1276T647 1472H763Z"/></svg><svg class="o" viewBox="0 0 1139 1480"><path transform="translate(0,1480) scale(1,-1)" d="M763 0H583V1147Q518 1085 412.5 1023T223 930V1104Q374 1175 487 1276T647 1472H763Z"/></svg></span><span style="left:660px;--x:0.72px"><svg class="o" viewBox="0 0 1139 1480"><path transform="translate(0,1480) scale(1,-1)" d="M763 0H583V1147Q518 1085 412.5 1023T223 930V1104Q374 1175 487 1276T647 1472H763Z"/></svg>3</span></div>
<div class="r" style="top:558px;--f:0.80px"><span class="l">Okla.</span><span style="left:139px;--x:0.02px"><svg class="o" viewBox="0 0 1139 1480"><path transform="translate(0,1480) scale(1,-1)" d="M763 0H583V1147Q518 1085 412.5 1023T223 930V1104Q374 1175 487 1276T647 1472H763Z"/></svg>2</span><span style="left:192px;--x:0.92px"><svg class="o" viewBox="0 0 1139 1480"><path transform="translate(0,1480) scale(1,-1)" d="M763 0H583V1147Q518 1085 412.5 1023T223 930V1104Q374 1175 487 1276T647 1472H763Z"/></svg>9</span><span style="left:262px;--x:0.56px">-</span><span style="left:316px;--x:0.46px">-</span><span style="left:377px;--x:0.56px">2</span><span style="left:431px;--x:0.86px">4</span><span style="left:496px;--x:0.56px">-</span><span style="left:550px;--x:0.36px">-</span><span style="left:611px;--x:0.16px">4</span><span style="left:660px;--x:0.72px"><svg class="o" viewBox="0 0 1139 1480"><path transform="translate(0,1480) scale(1,-1)" d="M763 0H583V1147Q518 1085 412.5 1023T223 930V1104Q374 1175 487 1276T647 1472H763Z"/></svg>2</span></div>
<div class="r" style="top:568px;--f:0.17px"><span class="l">Tex.</span><span style="left:145px;--x:0.66px">-</span><span style="left:197px;--x:0.66px"><svg class="o" viewBox="0 0 1139 1480"><path transform="translate(0,1480) scale(1,-1)" d="M763 0H583V1147Q518 1085 412.5 1023T223 930V1104Q374 1175 487 1276T647 1472H763Z"/></svg></span><span style="left:262px;--x:0.56px">-</span><span style="left:314px;--x:0.56px"><svg class="o" viewBox="0 0 1139 1480"><path transform="translate(0,1480) scale(1,-1)" d="M763 0H583V1147Q518 1085 412.5 1023T223 930V1104Q374 1175 487 1276T647 1472H763Z"/></svg></span><span style="left:379px;--x:0.46px">-</span><span style="left:433px;--x:0.76px">-</span><span style="left:496px;--x:0.56px">-</span><span style="left:550px;--x:0.36px">-</span><span style="left:606px;--x:0.42px">55</span><span style="left:655px;--x:0.98px"><svg class="o" viewBox="0 0 1139 1480"><path transform="translate(0,1480) scale(1,-1)" d="M763 0H583V1147Q518 1085 412.5 1023T223 930V1104Q374 1175 487 1276T647 1472H763Z"/></svg>60</span></div>
<div class="r" style="top:582px;--f:0.55px"><span class="l">MOUNTAIN</span><span style="left:139px;--x:0.02px">57</span><span style="left:192px;--x:0.92px">6<svg class="o" viewBox="0 0 1139 1480"><path transform="translate(0,1480) scale(1,-1)" d="M763 0H583V1147Q518 1085 412.5 1023T223 930V1104Q374 1175 487 1276T647 1472H763Z"/></svg></span><span style="left:260px;--x:0.66px"><svg class="o" viewBox="0 0 1139 1480"><path transform="translate(0,1480) scale(1,-1)" d="M763 0H583V1147Q518 1085 412.5 1023T223 930V1104Q374 1175 487 1276T647 1472H763Z"/></svg></span><span style="left:314px;--x:0.56px"><svg class="o" viewBox="0 0 1139 1480"><path transform="translate(0,1480) scale(1,-1)" d="M763 0H583V1147Q518 1085 412.5 1023T223 930V1104Q374 1175 487 1276T647 1472H763Z"/></svg></span><span style="left:372px;--x:0.82px"><svg class="o" viewBox="0 0 1139 1480"><path transform="translate(0,1480) scale(1,-1)" d="M763 0H583V1147Q518 1085 412.5 1023T223 930V1104Q374 1175 487 1276T647 1472H763Z"/></svg>5</span><span style="left:427px;--x:0.12px"><svg class="o" viewBox="0 0 1139 1480"><path transform="translate(0,1480) scale(1,-1)" d="M763 0H583V1147Q518 1085 412.5 1023T223 930V1104Q374 1175 487 1276T647 1472H763Z"/></svg>3</span><span style="left:494px;--x:0.66px">2</span><span style="left:548px;--x:0.46px"><svg class="o" viewBox="0 0 1139 1480"><path transform="translate(0,1480) scale(1,-1)" d="M763 0H583V1147Q518 1085 412.5 1023T223 930V1104Q374 1175 487 1276T647 1472H763Z"/></svg></span><span style="left:601px;--x:0.68px"><svg class="o" viewBox="0 0 1139 1480"><path transform="translate(0,1480) scale(1,-1)" d="M763 0H583V1147Q518 1085 412.5 1023T223 930V1104Q374 1175 487 1276T647 1472H763Z"/></svg>05</span><span style="left:655px;--x:0.98px"><svg class="o" viewBox="0 0 1139 1480"><path transform="translate(0,1480) scale(1,-1)" d="M763 0H583V1147Q518 1085 412.5 1023T223 930V1104Q374 1175 487 1276T647 1472H763Z"/></svg>76</span></div>
<div class="r" style="top:591px;--f:0.92px"><span class="l">Mont.</span><span style="left:145px;--x:0.66px">-</span><span style="left:199px;--x:0.56px">-</span><span style="left:262px;--x:0.56px">-</span><span style="left:316px;--x:0.46px">-</span><span style="left:379px;--x:0.46px">-</span><span style="left:433px;--x:0.76px">-</span><span style="left:496px;--x:0.56px">-</span><span style="left:550px;--x:0.36px">-</span><span style="left:611px;--x:0.16px"><svg class="o" viewBox="0 0 1139 1480"><path transform="translate(0,1480) scale(1,-1)" d="M763 0H583V1147Q518 1085 412.5 1023T223 930V1104Q374 1175 487 1276T647 1472H763Z"/></svg></span><span style="left:665px;--x:0.46px">5</span></div>
<div class="r" style="top:601px;--f:0.30px"><span class="l">Idaho</span><span style="left:145px;--x:0.66px">-</span><span style="left:197px;--x:0.66px"><svg class="o" viewBox="0 0 1139 1480"><path transform="translate(0,1480) scale(1,-1)" d="M763 0H583V1147Q518 1085 412.5 1023T223 930V1104Q374 1175 487 1276T647 1472H763Z"/></svg></span><span style="left:262px;--x:0.56px">-</span><span style="left:316px;--x:0.46px">-</span><span style="left:379px;--x:0.46px">-</span><span style="left:433px;--x:0.76px">-</span><span style="left:496px;--x:0.56px">-</span><span style="left:550px;--x:0.36px">-</span><span style="left:613px;--x:0.06px">-</span><span style="left:660px;--x:0.72px"><svg class="o" viewBox="0 0 1139 1480"><path transform="translate(0,1480) scale(1,-1)" d="M763 0H583V1147Q518 1085 412.5 1023T223 930V1104Q374 1175 487 1276T647 1472H763Z"/></svg>5</span></div>
<div class="r" style="top:610px;--f:0.67px"><span class="l">Wyo.</span><span style="left:145px;--x:0.66px">-</span><span style="left:197px;--x:0.66px"><svg class="o" viewBox="0 0 1139 1480"><path transform="translate(0,1480) scale(1,-1)" d="M763 0H583V1147Q518 1085 412.5 1023T223 930V1104Q374 1175 487 1276T647 1472H763Z"/></svg></span><span style="left:262px;--x:0.56px">-</span><span style="left:316px;--x:0.46px">-</span><span style="left:379px;--x:0.46px">-</span><span style="left:433px;--x:0.76px">-</span><span style="left:496px;--x:0.56px">-</span><span style="left:550px;--x:0.36px">-</span><span style="left:611px;--x:0.16px"><svg class="o" viewBox="0 0 1139 1480"><path transform="translate(0,1480) scale(1,-1)" d="M763 0H583V1147Q518 1085 412.5 1023T223 930V1104Q374 1175 487 1276T647 1472H763Z"/></svg></span><span style="left:665px;--x:0.46px">2</span></div>
<div class="r" style="top:620px;--f:0.05px"><span class="l">Colo.</span><span style="left:139px;--x:0.02px"><svg class="o" viewBox="0 0 1139 1480"><path transform="translate(0,1480) scale(1,-1)" d="M763 0H583V1147Q518 1085 412.5 1023T223 930V1104Q374 1175 487 1276T647 1472H763Z"/></svg>3</span><span style="left:192px;--x:0.92px"><svg class="o" viewBox="0 0 1139 1480"><path transform="translate(0,1480) scale(1,-1)" d="M763 0H583V1147Q518 1085 412.5 1023T223 930V1104Q374 1175 487 1276T647 1472H763Z"/></svg>4</span><span style="left:262px;--x:0.56px">-</span><span style="left:316px;--x:0.46px">-</span><span style="left:377px;--x:0.56px">4</span><span style="left:431px;--x:0.86px">2</span><span style="left:496px;--x:0.56px">-</span><span style="left:550px;--x:0.36px">-</span><span style="left:606px;--x:0.42px"><svg class="o" viewBox="0 0 1139 1480"><path transform="translate(0,1480) scale(1,-1)" d="M763 0H583V1147Q518 1085 412.5 1023T223 930V1104Q374 1175 487 1276T647 1472H763Z"/></svg>0</span><span style="left:660px;--x:0.72px">24</span></div>
<div class="r" style="top:629px;--f:0.42px"><span class="l" style="word-spacing:-1.1px">N. Mex.</span><span style="left:143px;--x:0.76px">7</span><span style="left:192px;--x:0.92px"><svg class="o" viewBox="0 0 1139 1480"><path transform="translate(0,1480) scale(1,-1)" d="M763 0H583V1147Q518 1085 412.5 1023T223 930V1104Q374 1175 487 1276T647 1472H763Z"/></svg>3</span><span style="left:262px;--x:0.56px">-</span><span style="left:316px;--x:0.46px">-</span><span style="left:377px;--x:0.56px">3</span><span style="left:431px;--x:0.86px">4</span><span style="left:494px;--x:0.66px"><svg class="o" viewBox="0 0 1139 1480"><path transform="translate(0,1480) scale(1,-1)" d="M763 0H583V1147Q518 1085 412.5 1023T223 930V1104Q374 1175 487 1276T647 1472H763Z"/></svg></span><span style="left:550px;--x:0.36px">-</span><span style="left:611px;--x:0.16px">7</span><span style="left:665px;--x:0.46px">4</span></div>
<div class="r" style="top:638px;--f:0.80px"><span class="l">Ariz.</span><span style="left:139px;--x:0.02px">28</span><span style="left:192px;--x:0.92px"><svg class="o" viewBox="0 0 1139 1480"><path transform="translate(0,1480) scale(1,-1)" d="M763 0H583V1147Q518 1085 412.5 1023T223 930V1104Q374 1175 487 1276T647 1472H763Z"/></svg>9</span><span style="left:260px;--x:0.66px"><svg class="o" viewBox="0 0 1139 1480"><path transform="translate(0,1480) scale(1,-1)" d="M763 0H583V1147Q518 1085 412.5 1023T223 930V1104Q374 1175 487 1276T647 1472H763Z"/></svg></span><span style="left:316px;--x:0.46px">-</span><span style="left:377px;--x:0.56px">5</span><span style="left:431px;--x:0.86px">4</span><span style="left:496px;--x:0.56px">-</span><span style="left:550px;--x:0.36px">-</span><span style="left:606px;--x:0.42px">65</span><span style="left:660px;--x:0.72px">90</span></div>
<div class="r" style="top:648px;--f:0.17px"><span class="l">Utah</span><span style="left:143px;--x:0.76px">6</span><span style="left:192px;--x:0.92px"><svg class="o" viewBox="0 0 1139 1480"><path transform="translate(0,1480) scale(1,-1)" d="M763 0H583V1147Q518 1085 412.5 1023T223 930V1104Q374 1175 487 1276T647 1472H763Z"/></svg>0</span><span style="left:262px;--x:0.56px">-</span><span style="left:314px;--x:0.56px"><svg class="o" viewBox="0 0 1139 1480"><path transform="translate(0,1480) scale(1,-1)" d="M763 0H583V1147Q518 1085 412.5 1023T223 930V1104Q374 1175 487 1276T647 1472H763Z"/></svg></span><span style="left:377px;--x:0.56px">3</span><span style="left:431px;--x:0.86px">2</span><span style="left:496px;--x:0.56px">-</span><span style="left:550px;--x:0.36px">-</span><span style="left:611px;--x:0.16px">7</span><span style="left:660px;--x:0.72px"><svg class="o" viewBox="0 0 1139 1480"><path transform="translate(0,1480) scale(1,-1)" d="M763 0H583V1147Q518 1085 412.5 1023T223 930V1104Q374 1175 487 1276T647 1472H763Z"/></svg>2</span></div>
<div class="r" style="top:657px;--f:0.55px"><span class="l">Nev.</span><span style="left:143px;--x:0.76px">3</span><span style="left:197px;--x:0.66px">3</span><span style="left:262px;--x:0.56px">-</span><span style="left:316px;--x:0.46px">-</span><span style="left:379px;--x:0.46px">-</span><span style="left:431px;--x:0.86px"><svg class="o" viewBox="0 0 1139 1480"><path transform="translate(0,1480) scale(1,-1)" d="M763 0H583V1147Q518 1085 412.5 1023T223 930V1104Q374 1175 487 1276T647 1472H763Z"/></svg></span><span style="left:494px;--x:0.66px"><svg class="o" viewBox="0 0 1139 1480"><path transform="translate(0,1480) scale(1,-1)" d="M763 0H583V1147Q518 1085 412.5 1023T223 930V1104Q374 1175 487 1276T647 1472H763Z"/></svg></span><span style="left:548px;--x:0.46px"><svg class="o" viewBox="0 0 1139 1480"><path transform="translate(0,1480) scale(1,-1)" d="M763 0H583V1147Q518 1085 412.5 1023T223 930V1104Q374 1175 487 1276T647 1472H763Z"/></svg></span><span style="left:606px;--x:0.42px"><svg class="o" viewBox="0 0 1139 1480"><path transform="translate(0,1480) scale(1,-1)" d="M763 0H583V1147Q518 1085 412.5 1023T223 930V1104Q374 1175 487 1276T647 1472H763Z"/></svg>4</span><span style="left:660px;--x:0.72px">24</span></div>
<div class="r" style="top:671px;--f:0.92px"><span class="l">PACIFIC</span><span style="left:139px;--x:0.02px">20</span><span style="left:192px;--x:0.92px">55</span><span style="left:262px;--x:0.56px">-</span><span style="left:316px;--x:0.46px">-</span><span style="left:377px;--x:0.56px">6</span><span style="left:427px;--x:0.12px"><svg class="o" viewBox="0 0 1139 1480"><path transform="translate(0,1480) scale(1,-1)" d="M763 0H583V1147Q518 1085 412.5 1023T223 930V1104Q374 1175 487 1276T647 1472H763Z"/></svg>3</span><span style="left:494px;--x:0.66px"><svg class="o" viewBox="0 0 1139 1480"><path transform="translate(0,1480) scale(1,-1)" d="M763 0H583V1147Q518 1085 412.5 1023T223 930V1104Q374 1175 487 1276T647 1472H763Z"/></svg></span><span style="left:548px;--x:0.46px"><svg class="o" viewBox="0 0 1139 1480"><path transform="translate(0,1480) scale(1,-1)" d="M763 0H583V1147Q518 1085 412.5 1023T223 930V1104Q374 1175 487 1276T647 1472H763Z"/></svg></span><span style="left:601px;--x:0.68px">355</span><span style="left:655px;--x:0.98px">625</span></div>
<div class="r" style="top:681px;--f:0.30px"><span class="l">Wash.</span><span style="left:143px;--x:0.76px">3</span><span style="left:199px;--x:0.56px">-</span><span style="left:262px;--x:0.56px">-</span><span style="left:316px;--x:0.46px">-</span><span style="left:377px;--x:0.56px">2</span><span style="left:433px;--x:0.76px">-</span><span style="left:494px;--x:0.66px"><svg class="o" viewBox="0 0 1139 1480"><path transform="translate(0,1480) scale(1,-1)" d="M763 0H583V1147Q518 1085 412.5 1023T223 930V1104Q374 1175 487 1276T647 1472H763Z"/></svg></span><span style="left:550px;--x:0.36px">-</span><span style="left:606px;--x:0.42px"><svg class="o" viewBox="0 0 1139 1480"><path transform="translate(0,1480) scale(1,-1)" d="M763 0H583V1147Q518 1085 412.5 1023T223 930V1104Q374 1175 487 1276T647 1472H763Z"/></svg>3</span><span style="left:660px;--x:0.72px">38</span></div>
<div class="r" style="top:690px;--f:0.67px"><span class="l">Oreg.</span><span style="left:139px;--x:0.02px"><svg class="o" viewBox="0 0 1139 1480"><path transform="translate(0,1480) scale(1,-1)" d="M763 0H583V1147Q518 1085 412.5 1023T223 930V1104Q374 1175 487 1276T647 1472H763Z"/></svg>2</span><span style="left:192px;--x:0.92px">27</span><span style="left:262px;--x:0.56px">-</span><span style="left:316px;--x:0.46px">-</span><span style="left:377px;--x:0.56px">3</span><span style="left:431px;--x:0.86px">4</span><span style="left:496px;--x:0.56px">-</span><span style="left:550px;--x:0.36px">-</span><span style="left:606px;--x:0.42px">22</span><span style="left:660px;--x:0.72px">34</span></div>
<div class="r" style="top:700px;--f:0.05px"><span class="l">Calif.</span><span style="left:143px;--x:0.76px"><svg class="o" viewBox="0 0 1139 1480"><path transform="translate(0,1480) scale(1,-1)" d="M763 0H583V1147Q518 1085 412.5 1023T223 930V1104Q374 1175 487 1276T647 1472H763Z"/></svg></span><span style="left:192px;--x:0.92px"><svg class="o" viewBox="0 0 1139 1480"><path transform="translate(0,1480) scale(1,-1)" d="M763 0H583V1147Q518 1085 412.5 1023T223 930V1104Q374 1175 487 1276T647 1472H763Z"/></svg>5</span><span style="left:262px;--x:0.56px">-</span><span style="left:316px;--x:0.46px">-</span><span style="left:377px;--x:0.56px"><svg class="o" viewBox="0 0 1139 1480"><path transform="translate(0,1480) scale(1,-1)" d="M763 0H583V1147Q518 1085 412.5 1023T223 930V1104Q374 1175 487 1276T647 1472H763Z"/></svg></span><span style="left:431px;--x:0.86px">7</span><span style="left:496px;--x:0.56px">-</span><span style="left:548px;--x:0.46px"><svg class="o" viewBox="0 0 1139 1480"><path transform="translate(0,1480) scale(1,-1)" d="M763 0H583V1147Q518 1085 412.5 1023T223 930V1104Q374 1175 487 1276T647 1472H763Z"/></svg></span><span style="left:601px;--x:0.68px">3<svg class="o" viewBox="0 0 1139 1480"><path transform="translate(0,1480) scale(1,-1)" d="M763 0H583V1147Q518 1085 412.5 1023T223 930V1104Q374 1175 487 1276T647 1472H763Z"/></svg>4</span><span style="left:655px;--x:0.98px">536</span></div>
<div class="r" style="top:709px;--f:0.42px"><span class="l">Alaska</span><span style="left:145px;--x:0.66px">-</span><span style="left:197px;--x:0.66px"><svg class="o" viewBox="0 0 1139 1480"><path transform="translate(0,1480) scale(1,-1)" d="M763 0H583V1147Q518 1085 412.5 1023T223 930V1104Q374 1175 487 1276T647 1472H763Z"/></svg></span><span style="left:262px;--x:0.56px">-</span><span style="left:316px;--x:0.46px">-</span><span style="left:379px;--x:0.46px">-</span><span style="left:431px;--x:0.86px"><svg class="o" viewBox="0 0 1139 1480"><path transform="translate(0,1480) scale(1,-1)" d="M763 0H583V1147Q518 1085 412.5 1023T223 930V1104Q374 1175 487 1276T647 1472H763Z"/></svg></span><span style="left:496px;--x:0.56px">-</span><span style="left:550px;--x:0.36px">-</span><span style="left:611px;--x:0.16px">3</span><span style="left:665px;--x:0.46px">6</span></div>
<div class="r" style="top:718px;--f:0.80px"><span class="l">Hawaii</span><span style="left:143px;--x:0.76px">4</span><span style="left:192px;--x:0.92px"><svg class="o" viewBox="0 0 1139 1480"><path transform="translate(0,1480) scale(1,-1)" d="M763 0H583V1147Q518 1085 412.5 1023T223 930V1104Q374 1175 487 1276T647 1472H763Z"/></svg>2</span><span style="left:262px;--x:0.56px">-</span><span style="left:316px;--x:0.46px">-</span><span style="left:379px;--x:0.46px">-</span><span style="left:431px;--x:0.86px"><svg class="o" viewBox="0 0 1139 1480"><path transform="translate(0,1480) scale(1,-1)" d="M763 0H583V1147Q518 1085 412.5 1023T223 930V1104Q374 1175 487 1276T647 1472H763Z"/></svg></span><span style="left:496px;--x:0.56px">-</span><span style="left:550px;--x:0.36px">-</span><span style="left:611px;--x:0.16px">3</span><span style="left:660px;--x:0.72px"><svg class="o" viewBox="0 0 1139 1480"><path transform="translate(0,1480) scale(1,-1)" d="M763 0H583V1147Q518 1085 412.5 1023T223 930V1104Q374 1175 487 1276T647 1472H763Z"/></svg><svg class="o" viewBox="0 0 1139 1480"><path transform="translate(0,1480) scale(1,-1)" d="M763 0H583V1147Q518 1085 412.5 1023T223 930V1104Q374 1175 487 1276T647 1472H763Z"/></svg></span></div>
<div class="r" style="top:733px;--f:0.17px"><span class="l">Guam</span><span style="left:145px;--x:0.66px">-</span><span style="left:199px;--x:0.56px">-</span><span style="left:262px;--x:0.56px">-</span><span style="left:316px;--x:0.46px">-</span><span style="left:379px;--x:0.46px">-</span><span style="left:433px;--x:0.76px">-</span><span style="left:496px;--x:0.56px">-</span><span style="left:550px;--x:0.36px">-</span><span style="left:613px;--x:0.06px">-</span><span style="left:667px;--x:0.36px">-</span></div>
<div class="r" style="top:742px;--f:0.55px"><span class="l">P.R.</span><span style="left:145px;--x:0.66px">-</span><span style="left:199px;--x:0.56px">-</span><span style="left:262px;--x:0.56px">-</span><span style="left:316px;--x:0.46px">-</span><span style="left:379px;--x:0.46px">-</span><span style="left:433px;--x:0.76px">-</span><span style="left:496px;--x:0.56px">-</span><span style="left:550px;--x:0.36px">-</span><span style="left:611px;--x:0.16px">4</span><span style="left:667px;--x:0.36px">-</span></div>
<div class="r" style="top:751px;--f:0.92px"><span class="l">V.I.</span><span style="left:145px;--x:0.66px">-</span><span style="left:199px;--x:0.56px">-</span><span style="left:262px;--x:0.56px">-</span><span style="left:316px;--x:0.46px">-</span><span style="left:379px;--x:0.46px">-</span><span style="left:433px;--x:0.76px">-</span><span style="left:496px;--x:0.56px">-</span><span style="left:550px;--x:0.36px">-</span><span style="left:613px;--x:0.06px">-</span><span style="left:667px;--x:0.36px">-</span></div>
<div class="r" style="top:761px;--f:0.30px"><span class="l">Amer. Samoa</span><span style="left:142px;--x:0.85px">U</span><span style="left:196px;--x:0.75px">U</span><span style="left:259px;--x:0.75px">U</span><span style="left:313px;--x:0.65px">U</span><span style="left:376px;--x:0.65px">U</span><span style="left:430px;--x:0.95px">U</span><span style="left:493px;--x:0.75px">U</span><span style="left:547px;--x:0.55px">U</span><span style="left:610px;--x:0.25px">U</span><span style="left:664px;--x:0.55px">U</span></div>
<div class="r" style="top:770px;--f:0.67px"><span class="l">C.N.M.I.</span><span style="left:145px;--x:0.66px">-</span><span style="left:196px;--x:0.75px">U</span><span style="left:262px;--x:0.56px">-</span><span style="left:313px;--x:0.65px">U</span><span style="left:379px;--x:0.46px">-</span><span style="left:430px;--x:0.95px">U</span><span style="left:496px;--x:0.56px">-</span><span style="left:547px;--x:0.55px">U</span><span style="left:613px;--x:0.06px">-</span><span style="left:664px;--x:0.55px">U</span></div>
<div class="f" style="left:9.4px;top:781.22px">N: Not notifiable.</div>
<div class="f" style="left:104.8px;top:781.22px">U:</div>
<div class="f" style="left:115.5px;top:781.22px;letter-spacing:-0.13px">Unavailable.</div>
<div class="f" style="left:189.3px;top:781.22px">-: No reported cases.</div>
<div class="f" style="left:10.9px;top:789.12px">*</div>
<div class="f" style="left:18.3px;top:789.72px">Incidence data for reporting years 2002 and 2003 are provisional and cumulative (year-to-date).</div>
</div>
</body></html>
